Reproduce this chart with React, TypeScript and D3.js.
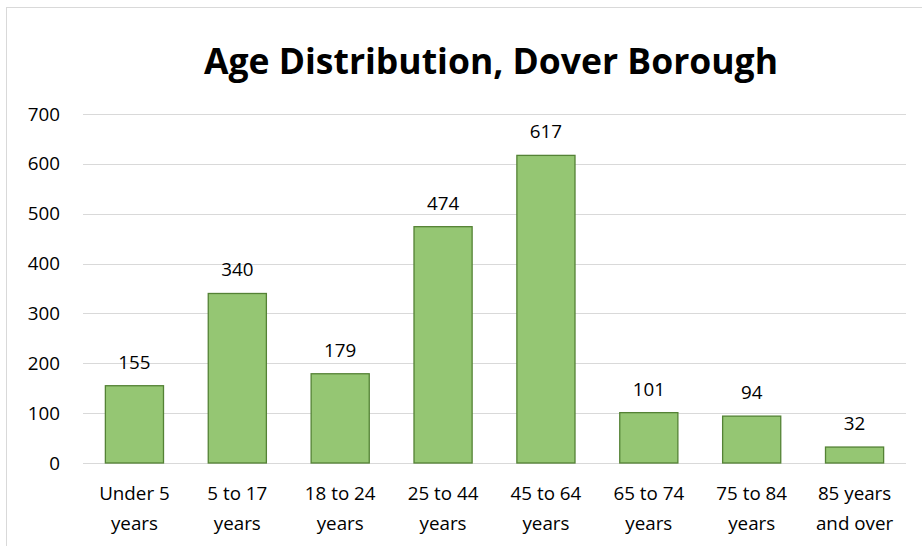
import React from 'react'
import * as d3 from 'd3'

const categories = [
  ['Under 5', 'years'],
  ['5 to 17', 'years'],
  ['18 to 24', 'years'],
  ['25 to 44', 'years'],
  ['45 to 64', 'years'],
  ['65 to 74', 'years'],
  ['75 to 84', 'years'],
  ['85 years', 'and over'],
]
const values = [155, 340, 179, 474, 617, 101, 94, 32]
const yTicks = [0, 100, 200, 300, 400, 500, 600, 700]
const title = 'Age Distribution, Dover Borough'

const W = 922
const H = 546
const left = 83
const right = 906
const top = 114
const bottom = 463
const font = '"Open Sans", "Noto Sans", sans-serif'
const fs = 18.8

export default function App() {
  const x = d3.scaleBand<number>()
    .domain(d3.range(values.length))
    .range([left, right])
    .paddingInner(0.435)
    .paddingOuter(0.2175)
  const y = d3.scaleLinear().domain([0, 700]).range([bottom, top])

  return (
    <svg width={W} height={H} style={{ position: 'absolute', left: 0, top: 0 }}>
      <rect x={0} y={0} width={W} height={H} fill="white" />
      <rect x={6.5} y={7.5} width={W + 10} height={H + 10} fill="none" stroke="#d9d9d9" strokeWidth={1} />
      <text x={491} y={74} textAnchor="middle" fontFamily={font} fontWeight="bold" fontSize={35.5} fill="#000">
        {title}
      </text>
      {yTicks.map(t => (
        <g key={t}>
          <line x1={left} x2={right} y1={Math.round(y(t)) + 0.5} y2={Math.round(y(t)) + 0.5} stroke="#d9d9d9" strokeWidth={1} />
          <text x={60} y={y(t) + 6.5} textAnchor="end" fontFamily={font} fontSize={fs} fill="#000">{t}</text>
        </g>
      ))}
      {values.map((v, i) => (
        <g key={i}>
          <rect x={x(i)} y={y(v)} width={x.bandwidth()} height={bottom - y(v)}
                fill="#95c673" stroke="#548235" strokeWidth={1.3} />
          <text x={x(i)! + x.bandwidth() / 2} y={y(v) - 17} textAnchor="middle"
                fontFamily={font} fontSize={fs} fill="#000">{v}</text>
          {categories[i].map((line, j) => (
            <text key={j} x={x(i)! + x.bandwidth() / 2} y={500 + j * 30} textAnchor="middle"
                  fontFamily={font} fontSize={fs} fill="#000">{line}</text>
          ))}
        </g>
      ))}
    </svg>
  )
}
